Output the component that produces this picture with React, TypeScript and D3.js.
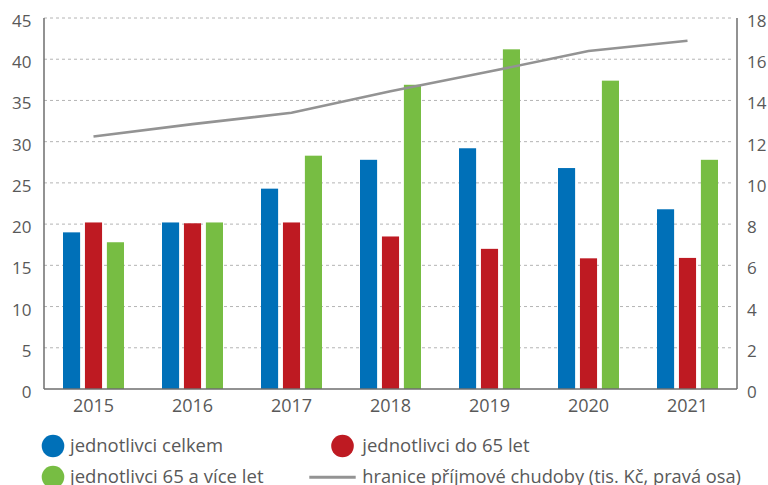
import React from "react";
import * as d3 from "d3";

const years = ["2015", "2016", "2017", "2018", "2019", "2020", "2021"];
const seriesKeys = ["celkem", "do65", "nad65"];
const celkem = [19.0, 20.2, 24.3, 27.8, 29.2, 26.8, 21.8];
const do65 = [20.2, 20.1, 20.2, 18.5, 17.0, 15.85, 15.9];
const nad65 = [17.8, 20.2, 28.3, 36.9, 41.2, 37.4, 27.8];
const hranice = [12.25, 12.85, 13.4, 14.45, 15.4, 16.4, 16.9];
const leftTicks = [0, 5, 10, 15, 20, 25, 30, 35, 40, 45];
const rightTicks = [0, 2, 4, 6, 8, 10, 12, 14, 16, 18];

const colors: Record<string, string> = {
  celkem: "#0070b8",
  do65: "#be1a22",
  nad65: "#77bd43",
};
const lineColor = "#939393";
const textColor = "#595959";
const font = "'Open Sans', sans-serif";

export default function App() {
  const W = 768;
  const H = 485;
  const left = 44;
  const right = 737;
  const top = 18;
  const bottom = 389;

  const x = d3.scaleBand<string>().domain(years).range([left, right]).padding(0);
  const sub = d3
    .scaleBand<string>()
    .domain(seriesKeys)
    .range([-30.5, 30.5])
    .paddingInner(0.22);
  const yL = d3.scaleLinear().domain([0, 45]).range([bottom, top]);
  const yR = d3.scaleLinear().domain([0, 18]).range([bottom, top]);

  const data: Record<string, number[]> = { celkem, do65, nad65 };

  const line = d3
    .line<number>()
    .x((_, i) => (x(years[i]) as number) + x.bandwidth() / 2)
    .y((d) => yR(d));

  return (
    <svg width={W} height={H} style={{ position: "absolute", left: 0, top: 0 }}>
      <rect width={W} height={H} fill="#fff" />
      {leftTicks.slice(1).map((t) => (
        <line
          key={"g" + t}
          x1={left}
          x2={right - 3}
          y1={yL(t)}
          y2={yL(t)}
          stroke="#b4b4b4"
          strokeWidth={1}
          strokeDasharray="3,3"
        />
      ))}
      {years.map((yr, i) =>
        seriesKeys.map((k) => {
          const cx = (x(yr) as number) + x.bandwidth() / 2;
          const v = data[k][i];
          return (
            <rect
              key={yr + k}
              x={cx + (sub(k) as number)}
              width={sub.bandwidth()}
              y={yL(v)}
              height={yL(0) - yL(v)}
              fill={colors[k]}
            />
          );
        })
      )}
      <path d={line(hranice) || ""} fill="none" stroke={lineColor} strokeWidth={2.6} />
      <line x1={left} x2={left} y1={top} y2={bottom} stroke="#6e6e6e" strokeWidth={1.5} />
      <line x1={right} x2={right} y1={top} y2={bottom} stroke="#6e6e6e" strokeWidth={1.5} />
      <line x1={left} x2={right} y1={bottom} y2={bottom} stroke="#6e6e6e" strokeWidth={1.5} />
      {leftTicks.map((t) => (
        <text
          key={"l" + t}
          x={31.5}
          y={yL(t) + 9}
          textAnchor="end"
          fontFamily={font}
          fontSize={17}
          fill={textColor}
        >
          {t}
        </text>
      ))}
      {rightTicks.map((t) => (
        <text
          key={"r" + t}
          x={747}
          y={yR(t) + 9}
          textAnchor="start"
          fontFamily={font}
          fontSize={17}
          fill={textColor}
        >
          {t}
        </text>
      ))}
      {years.map((yr) => (
        <text
          key={"x" + yr}
          x={(x(yr) as number) + x.bandwidth() / 2}
          y={412}
          textAnchor="middle"
          fontFamily={font}
          fontSize={18}
          fill={textColor}
        >
          {yr}
        </text>
      ))}
      {/* legend */}
      <circle cx={53} cy={446} r={11.3} fill={colors.celkem} />
      <text x={70} y={451.7} fontFamily={font} fontSize={18.5} fill={textColor} textLength={153} lengthAdjust="spacingAndGlyphs">
        jednotlivci celkem
      </text>
      <circle cx={342.5} cy={446} r={11.3} fill={colors.do65} />
      <text x={362.3} y={451.7} fontFamily={font} fontSize={18.5} fill={textColor} textLength={167.3} lengthAdjust="spacingAndGlyphs">
        jednotlivci do 65 let
      </text>
      <circle cx={53} cy={477} r={11.3} fill={colors.nad65} />
      <text x={70} y={482.5} fontFamily={font} fontSize={18.5} fill={textColor} textLength={193.5} lengthAdjust="spacingAndGlyphs">
        jednotlivci 65 a více let
      </text>
      <line x1={309.3} x2={355.7} y1={477.3} y2={477.3} stroke={lineColor} strokeWidth={3} />
      <text x={362.3} y={482.5} fontFamily={font} fontSize={18.5} fill={textColor} textLength={378.7} lengthAdjust="spacingAndGlyphs">
        hranice příjmové chudoby (tis. Kč,  pravá osa)
      </text>
    </svg>
  );
}
